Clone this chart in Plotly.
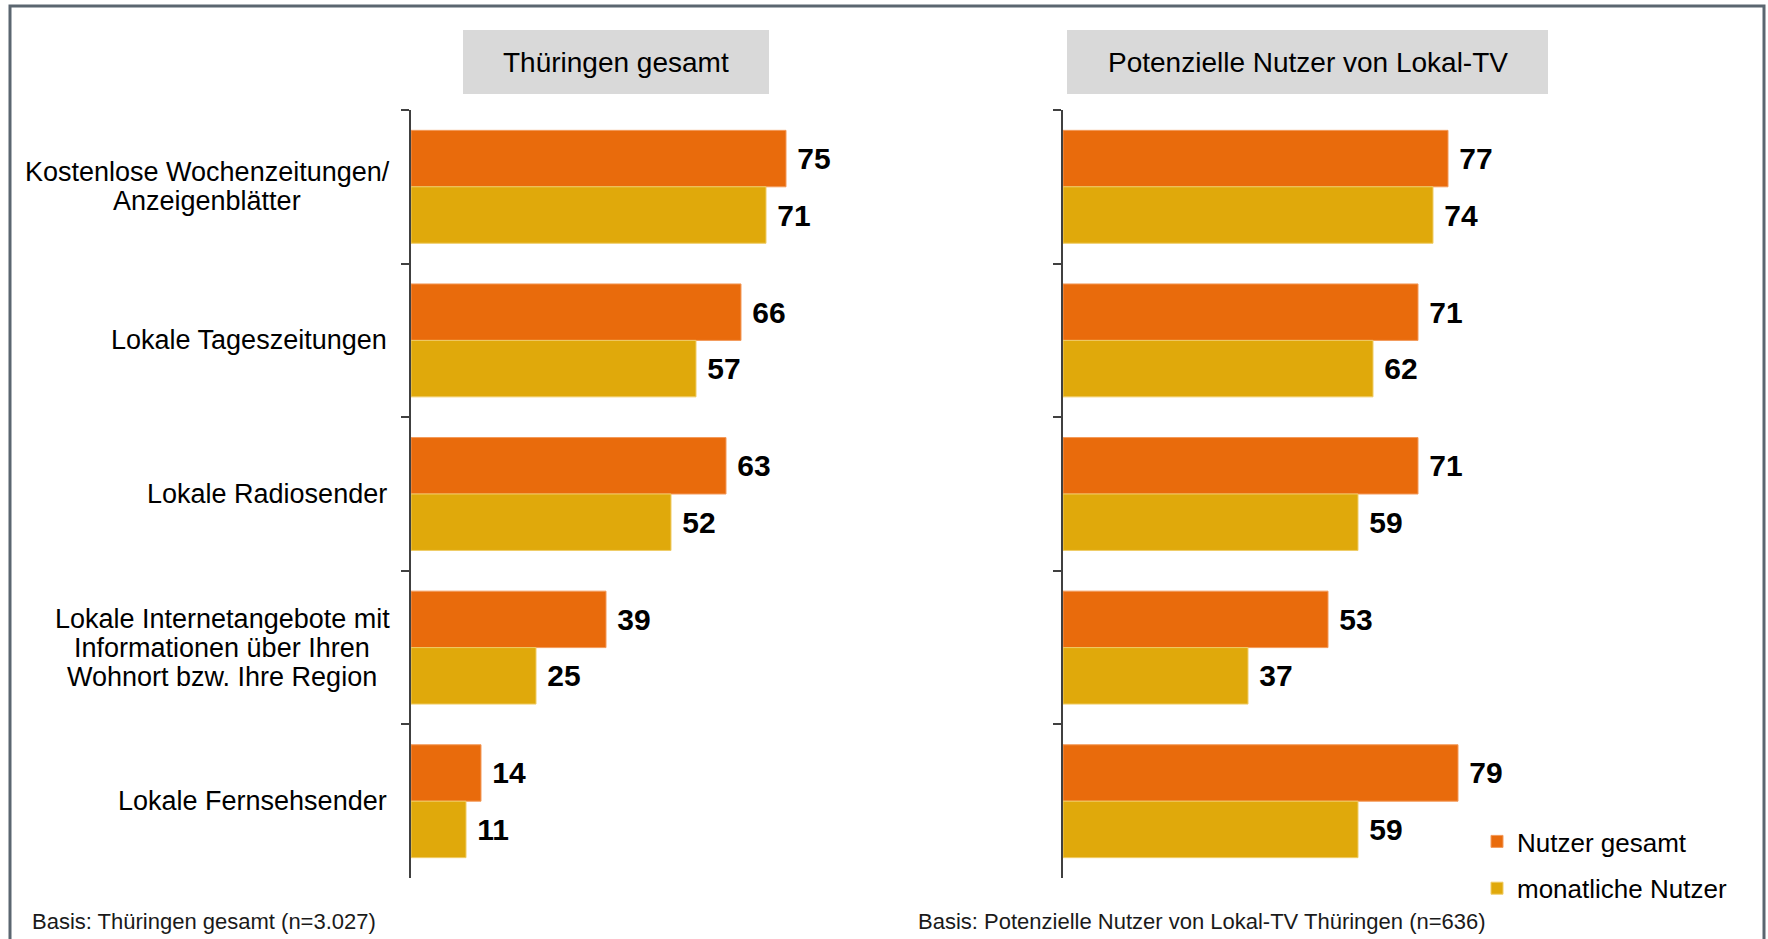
import plotly.graph_objects as go

W, H = 1768, 939

categories = [
    "Kostenlose Wochenzeitungen/<br>Anzeigenblätter",
    "Lokale Tageszeitungen",
    "Lokale Radiosender",
    "Lokale Internetangebote mit<br>Informationen über Ihren<br>Wohnort bzw. Ihre Region",
    "Lokale Fernsehsender",
]
series_names = ["Nutzer gesamt", "monatliche Nutzer"]
panel_titles = ["Thüringen gesamt", "Potenzielle Nutzer von Lokal-TV"]
footers = [
    "Basis: Thüringen gesamt (n=3.027)",
    "Basis: Potenzielle Nutzer von Lokal-TV Thüringen (n=636)",
]

thueringen_gesamt = [75, 66, 63, 39, 14]
thueringen_monatlich = [71, 57, 52, 25, 11]
lokaltv_gesamt = [77, 71, 71, 53, 79]
lokaltv_monatlich = [74, 62, 59, 37, 59]

ORANGE = "#E96B0C"
YELLOW = "#E0A90B"
FONT = "Liberation Sans, Arial, sans-serif"

# centre (px) of multi-line label blocks, so their lines sit centred like the original
LABEL_CENTRES = {0: 207, 3: 222}
LABEL_RIGHT = 389
LINE_STEP = 29


def px_x(p):
    return p / W


def px_y(p):
    return 1 - p / H


fig = go.Figure()

panels = [
    ("x", "y", thueringen_gesamt, thueringen_monatlich, True),
    ("x2", "y2", lokaltv_gesamt, lokaltv_monatlich, False),
]

for xa, ya, total, monthly, legend in panels:
    for name, values, color, edge in [
        (series_names[0], total, ORANGE, "#F39A5A"),
        (series_names[1], monthly, YELLOW, "#F0CC66"),
    ]:
        fig.add_trace(
            go.Bar(
                y=categories,
                x=values,
                orientation="h",
                name=name,
                legendgroup=name,
                marker=dict(color=color, line=dict(color=edge, width=1)),
                texttemplate=" %{x}",
                textposition="outside",
                constraintext="none",
                cliponaxis=False,
                textfont=dict(family=FONT, size=30, color="black", weight="bold"),
                xaxis=xa,
                yaxis=ya,
                showlegend=legend,
                hoverinfo="skip",
            )
        )

y_axis = dict(
    type="category",
    categoryorder="array",
    categoryarray=categories,
    autorange="reversed",
    domain=[px_y(878), px_y(110)],
    showline=True,
    linecolor="#404040",
    linewidth=2,
    ticks="outside",
    tickson="boundaries",
    ticklen=8,
    tickwidth=2,
    tickcolor="#404040",
    showticklabels=False,
    showgrid=False,
    zeroline=False,
)

# category labels: one annotation per line so the line spacing can be tightened
annotations = []
for idx, cat in enumerate(categories):
    lines = cat.split("<br>")
    n = len(lines)
    if idx in LABEL_CENTRES:
        lx, anchor = LABEL_CENTRES[idx], "center"
    else:
        lx, anchor = LABEL_RIGHT, "right"
    for i, line in enumerate(lines):
        annotations.append(
            dict(
                x=px_x(lx), xref="paper", xanchor=anchor,
                y=cat, yref="y", yanchor="middle",
                yshift=((n - 1) / 2 - i) * LINE_STEP,
                text=line, showarrow=False,
                font=dict(family=FONT, size=27, color="black"),
            )
        )

for title, cx in zip(panel_titles, [616, 1307.5]):
    annotations.append(
        dict(
            x=px_x(cx), xref="paper", xanchor="center",
            y=px_y(62), yref="paper", yanchor="middle",
            text=title, showarrow=False,
            font=dict(family=FONT, size=28, color="black"),
        )
    )

for text, lx in zip(footers, [30, 916]):
    annotations.append(
        dict(
            x=px_x(lx), xref="paper", xanchor="left",
            y=px_y(921), yref="paper", yanchor="middle",
            text=text, showarrow=False,
            font=dict(family=FONT, size=22, color="#1a1a1a"),
        )
    )

shapes = [
    dict(type="rect", xref="paper", yref="paper",
         x0=px_x(463), x1=px_x(769), y0=px_y(94), y1=px_y(30),
         fillcolor="#D9D9D9", line=dict(width=0), layer="below"),
    dict(type="rect", xref="paper", yref="paper",
         x0=px_x(1067), x1=px_x(1548), y0=px_y(94), y1=px_y(30),
         fillcolor="#D9D9D9", line=dict(width=0), layer="below"),
    # outer frame, open at the bottom
    dict(type="path", xref="paper", yref="paper",
         path=f"M {px_x(10)},{px_y(945)} L {px_x(10)},{px_y(6)} "
              f"L {px_x(1764)},{px_y(6)} L {px_x(1764)},{px_y(945)}",
         line=dict(color="#5B6670", width=3)),
]

fig.update_layout(
    width=W,
    height=H,
    margin=dict(l=0, r=0, t=0, b=0),
    paper_bgcolor="white",
    plot_bgcolor="white",
    barmode="group",
    bargap=0.265,
    bargroupgap=0,
    font=dict(family=FONT, color="black"),
    xaxis=dict(domain=[px_x(411), px_x(911)], range=[0, 100], visible=False),
    xaxis2=dict(domain=[px_x(1063), px_x(1563)], range=[0, 100], visible=False),
    yaxis=dict(y_axis, anchor="x"),
    yaxis2=dict(y_axis, anchor="x2"),
    legend=dict(
        x=px_x(1477), xanchor="left",
        y=px_y(818), yanchor="top",
        font=dict(family=FONT, size=26, color="black"),
        bgcolor="rgba(0,0,0,0)",
        traceorder="grouped",
        tracegroupgap=10,
        itemwidth=30,
    ),
    annotations=annotations,
    shapes=shapes,
)

fig.write_html(
    "out.html",
    config={"displayModeBar": False},
    post_script="document.body.style.margin='0';",
)
